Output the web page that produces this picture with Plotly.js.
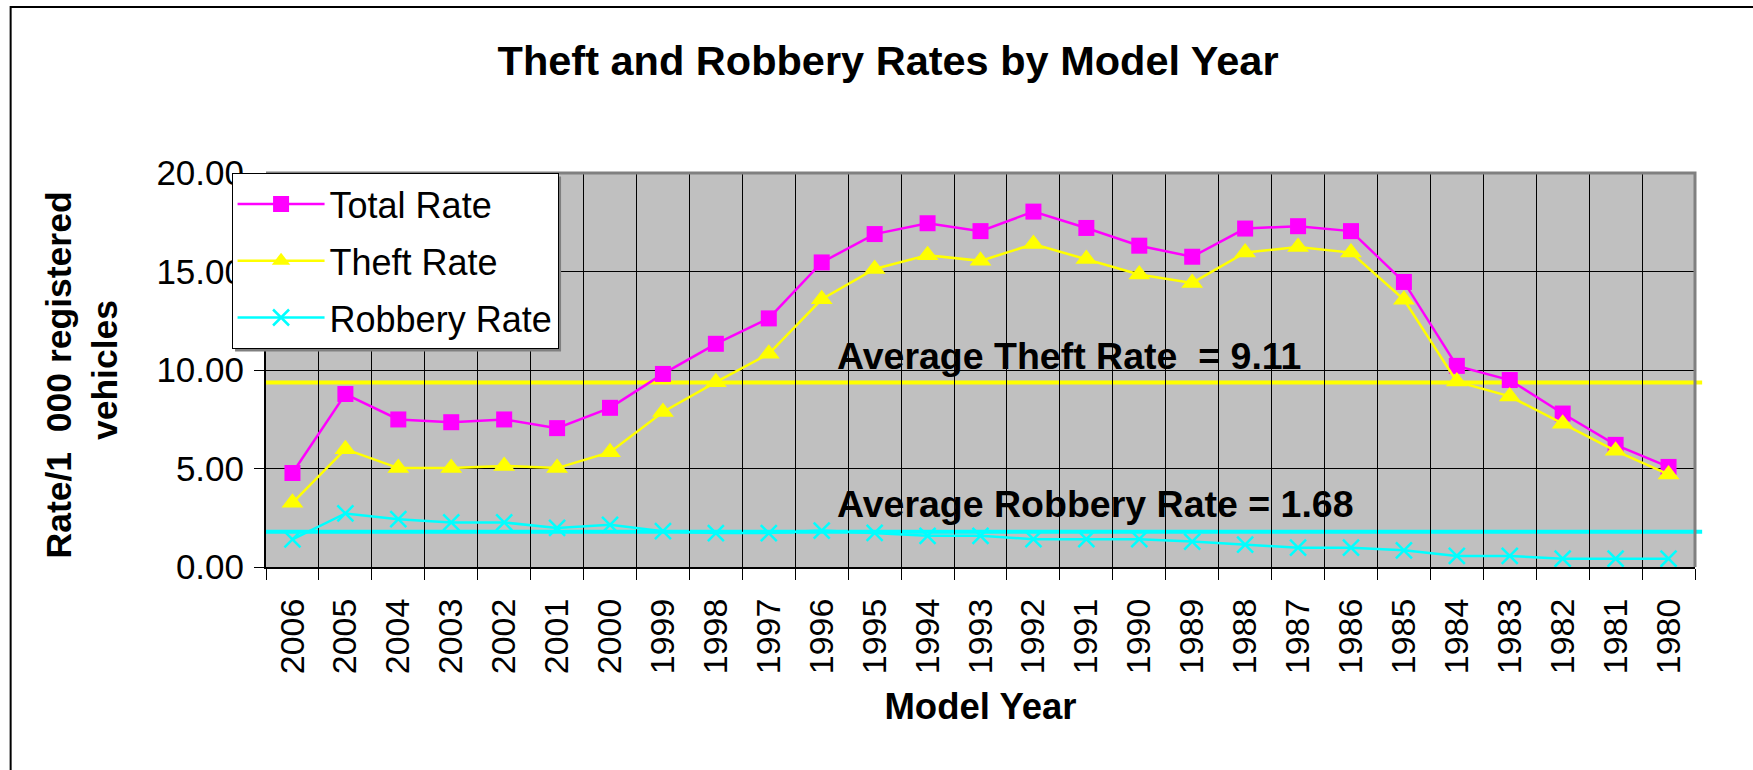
<!DOCTYPE html>
<html>
<head>
<meta charset="utf-8">
<script src="https://cdn.plot.ly/plotly-3.0.1.min.js"></script>
<style>
  html, body { margin: 0; padding: 0; background: #ffffff; }
  #chart { width: 1753px; height: 770px; }
</style>
</head>
<body>
<div id="chart"></div>
<script>
// ---- data ----
var years = ['2006','2005','2004','2003','2002','2001','2000','1999','1998','1997','1996','1995','1994',
             '1993','1992','1991','1990','1989','1988','1987','1986','1985','1984','1983','1982','1981','1980'];
var totalRate = [4.77, 8.78, 7.49, 7.35, 7.49, 7.05, 8.08, 9.80, 11.33, 12.62, 15.46, 16.90, 17.45,
                 17.05, 18.04, 17.21, 16.31, 15.75, 17.18, 17.30, 17.05, 14.47, 10.21, 9.49, 7.79, 6.20, 5.08];
var theftRate = [3.26, 5.98, 5.02, 5.02, 5.13, 5.02, 5.83, 7.87, 9.38, 10.82, 13.59, 15.13, 15.83,
                 15.54, 16.39, 15.63, 14.85, 14.42, 15.96, 16.24, 15.96, 13.57, 9.41, 8.66, 7.27, 5.90, 4.70];
var robberyRate = [1.40, 2.72, 2.43, 2.26, 2.26, 1.98, 2.14, 1.82, 1.72, 1.72, 1.85, 1.73, 1.58,
                   1.58, 1.41, 1.41, 1.41, 1.29, 1.13, 0.98, 0.98, 0.85, 0.56, 0.56, 0.42, 0.42, 0.42];
var seriesNames = ['Total Rate', 'Theft Rate', 'Robbery Rate'];
var avgLineLevels = [9.36, 1.79];          // where the average lines are drawn
var avgLabels = ['Average Theft Rate  = 9.11', 'Average Robbery Rate = 1.68'];
var avgLabelLevels = [10.72, 3.2];
var yTicks = [0, 5, 10, 15, 20];

var FONT = '"Liberation Sans", Arial, Helvetica, sans-serif';
var MAGENTA = '#ff00ff', YELLOW = '#ffff00', CYAN = '#00ffff';

var traces = [
  { x: years, y: totalRate, name: seriesNames[0], type: 'scatter', mode: 'lines+markers', legendgroup: 'a',
    line: { color: MAGENTA, width: 2.5 },
    marker: { symbol: 'square', size: 16, color: MAGENTA } },
  { x: years, y: theftRate, name: seriesNames[1], type: 'scatter', mode: 'lines+markers', legendgroup: 'b',
    line: { color: YELLOW, width: 2.5 },
    marker: { symbol: 'triangle-up', size: 19, color: YELLOW } },
  { x: years, y: robberyRate, name: seriesNames[2], type: 'scatter', mode: 'lines+markers', legendgroup: 'c',
    line: { color: CYAN, width: 2.5 },
    marker: { symbol: 'x-thin', size: 16, color: CYAN, line: { color: CYAN, width: 2.5 } } }
];

var shapes = [
  // average lines
  { type: 'line', layer: 'between', xref: 'paper', yref: 'y', x0: 0, x1: 1.005,
    y0: avgLineLevels[0], y1: avgLineLevels[0], line: { color: YELLOW, width: 4 } },
  { type: 'line', layer: 'between', xref: 'paper', yref: 'y', x0: 0, x1: 1.005,
    y0: avgLineLevels[1], y1: avgLineLevels[1], line: { color: CYAN, width: 4 } },
  // grey top and right plot frame
  { type: 'path', layer: 'above', xref: 'paper', yref: 'paper',
    path: 'M 0 1 L 1 1 L 1 0', line: { color: '#808080', width: 3 } },
  // outer chart frame
  { type: 'rect', layer: 'above', xref: 'paper', yref: 'paper',
    x0: -0.1787, x1: 1.2, y0: -0.8, y1: 1.4214, line: { color: '#000000', width: 2 } }
];

var annotations = avgLabels.map(function (t, i) {
  return { text: t, xref: 'paper', yref: 'y', x: 0.398, y: avgLabelLevels[i],
           xanchor: 'left', yanchor: 'middle', showarrow: false,
           font: { family: FONT, size: 37.5, color: '#000000', weight: 'bold' } };
});

var layout = {
  width: 1753, height: 770,
  paper_bgcolor: '#ffffff', plot_bgcolor: '#c0c0c0',
  margin: { l: 266, r: 58, t: 173, b: 203, pad: 0 },
  font: { family: FONT, color: '#000000' },
  title: { text: '<b>Theft and Robbery Rates by Model Year</b>', xref: 'container', yref: 'container',
           x: 0.5066, y: 0.922, xanchor: 'center', yanchor: 'middle',
           font: { family: FONT, size: 41.5, color: '#000000' } },
  xaxis: {
    type: 'category', categoryorder: 'array', categoryarray: years,
    range: [-0.5, years.length - 0.5], tickson: 'boundaries',
    showgrid: true, gridcolor: '#000000', gridwidth: 1,
    showline: true, linecolor: '#000000', linewidth: 2,
    ticks: 'outside', ticklen: 11, tickcolor: '#000000', tickwidth: 1,
    tickangle: -90, tickfont: { family: FONT, size: 34, color: '#000000' },
    ticklabelstandoff: 16,
    zeroline: false, automargin: false, fixedrange: true,
    title: { text: '<b>Model Year</b>', standoff: 20, font: { family: FONT, size: 36.5, color: '#000000' } }
  },
  yaxis: {
    range: [0, 20], tickvals: yTicks, tickformat: '.2f',
    showgrid: true, gridcolor: '#000000', gridwidth: 1,
    showline: true, linecolor: '#000000', linewidth: 2,
    ticks: 'outside', ticklen: 10, tickcolor: '#000000', tickwidth: 1,
    tickfont: { family: FONT, size: 35, color: '#000000' },
    ticklabelstandoff: 3,
    zeroline: false, automargin: false, fixedrange: true,
    title: { text: '<b>Rate/1  000 registered&nbsp;<br>vehicles</b>', standoff: 28,
             font: { family: FONT, size: 35.5, color: '#000000' } }
  },
  showlegend: true,
  legend: {
    x: -0.0241, y: 1.0, xanchor: 'left', yanchor: 'top',
    bgcolor: '#ffffff', bordercolor: '#000000', borderwidth: 1,
    font: { family: FONT, size: 36, color: '#000000' },
    tracegroupgap: 7, itemwidth: 87, traceorder: 'grouped'
  },
  shapes: shapes,
  annotations: annotations
};

Plotly.newPlot('chart', traces, layout, { staticPlot: true, displayModeBar: false }).then(function (gd) {
  // add the grey drop shadow that sits under the legend box (offset 3px right and down)
  var bg = gd.querySelector('.legend rect.bg');
  if (!bg) return;
  var r = bg.getBoundingClientRect();
  var c = gd.getBoundingClientRect();
  var fl = gd._fullLayout, sz = fl._size;
  var off = 3;
  var toX = function (px) { return (px - c.left - sz.l) / sz.w; };
  var toY = function (py) { return 1 - (py - c.top - sz.t) / sz.h; };
  var shadow = { type: 'rect', layer: 'above', xref: 'paper', yref: 'paper',
                 x0: toX(r.left + off), x1: toX(r.right + off),
                 y0: toY(r.bottom + off), y1: toY(r.top + off),
                 fillcolor: '#808080', line: { width: 0 } };
  Plotly.relayout(gd, { shapes: shapes.concat([shadow]) });
});
</script>
</body>
</html>
